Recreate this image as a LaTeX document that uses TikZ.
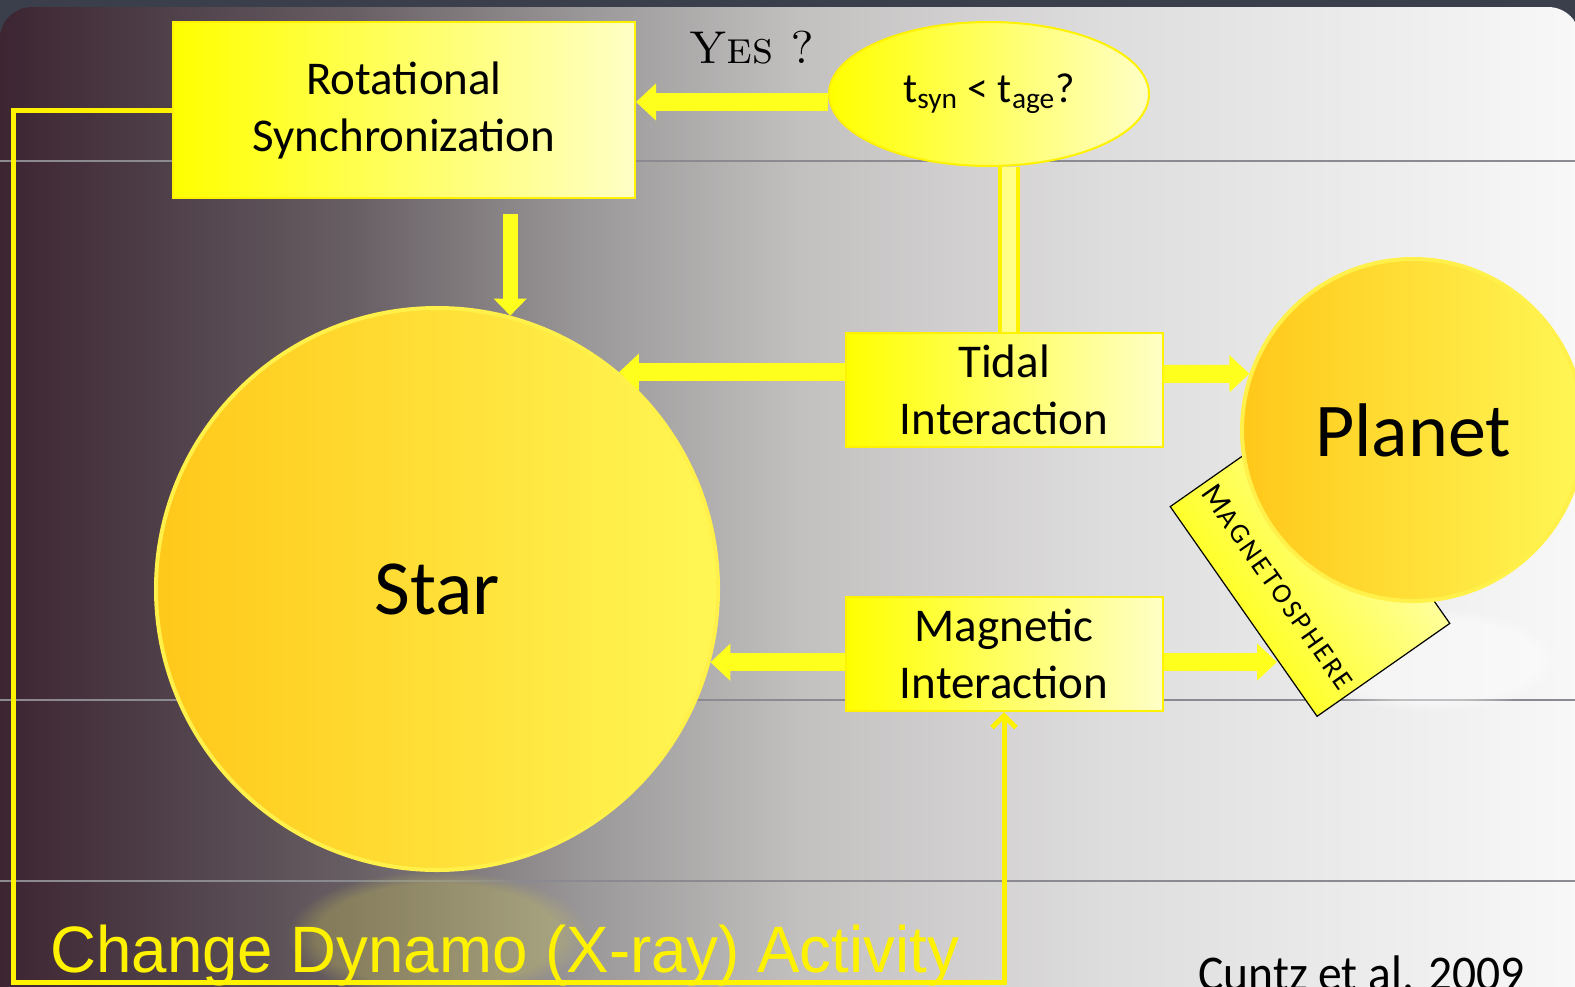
\documentclass[tikz,border=0pt]{standalone}
\usepackage{fontspec}
\newfontfamily\calibri{Carlito}
\newfontfamily\calibrisp[LetterSpace=10]{Carlito}
\newfontfamily\arial{Liberation Sans}
\usetikzlibrary{shapes.geometric,arrows.meta,calc,fadings}

\definecolor{strip}{HTML}{3A3F4B}
\definecolor{bgA}{HTML}{3D2532}
\definecolor{bgB}{HTML}{4D3D47}
\definecolor{bgC}{HTML}{675E63}
\definecolor{bgD}{HTML}{9A9798}
\definecolor{bgE}{HTML}{C3C0C0}
\definecolor{bgF}{HTML}{DEDDDD}
\definecolor{bgG}{HTML}{F8F8F8}
\definecolor{pale}{HTML}{FFFFC6}
\definecolor{barpale}{HTML}{FFFF88}
\definecolor{arrowyel}{HTML}{FFFF1E}
\definecolor{sun}{HTML}{FFC81A}
\definecolor{sunlight}{HTML}{FFF755}
\definecolor{rim}{HTML}{FFF04A}
\definecolor{rulegray}{HTML}{8A8A90}

\pgfdeclarehorizontalshading{slidebg}{100bp}{color(0bp)=(bgA); color(25bp)=(bgA); color(29.8bp)=(bgB); color(36.1bp)=(bgC); color(43.4bp)=(bgD); color(50.4bp)=(bgE); color(59.9bp)=(bgF); color(75bp)=(bgG); color(100bp)=(bgG)}

\tikzset{
  ibox/.style={rectangle, draw=yellow, line width=1pt, left color=yellow, right color=pale, inner sep=0pt, align=center, minimum width=158.5pt, minimum height=57pt, font=\calibri\fontsize{23.5}{28.5}\selectfont},
  body/.style={circle, draw=rim, line width=2pt, left color=sun, right color=sunlight, inner sep=0pt},
  fat/.style={draw=arrowyel, line width=9pt, -{Triangle[length=10pt,width=18pt]}},
  slim/.style={draw=arrowyel, line width=7.5pt, -{Triangle[length=8.5pt,width=16pt]}},
  fbline/.style={draw=yellow, line width=2.5pt, -{Straight Barb[length=6pt,width=12pt]}},
  hrule/.style={draw=rulegray, line width=0.6pt}
}

\begin{document}
\begin{tikzpicture}[x=0.5pt,y=-0.5pt]
	\useasboundingbox (0,0) rectangle (1575,986);
	\fill[strip] (0,0) rectangle (1575,986);
	\shade[shading=slidebg, rounded corners=16pt] (0,7) rectangle (1580,1040);
	\draw[hrule] (0,161) -- (1575,161);
	\draw[hrule] (0,700) -- (1575,700);
	\draw[hrule] (0,881) -- (1575,881);
	\fill[yellow!60!gray, opacity=.3, path fading=circle with fuzzy edge 20 percent] (437,935) ellipse [x radius=75pt, y radius=32pt];
	\fill[white, opacity=.45, path fading=circle with fuzzy edge 20 percent] (1430,660) ellipse [x radius=65pt, y radius=26pt];
	
	\node(rotsync) at (404,110)[ibox, minimum width=231pt, minimum height=88pt]{Rotational\\Synchronization};
	\node(tcond) at (989,94)[ellipse, draw=yellow, line width=1pt, left color=yellow, right color=pale, inner sep=0pt, minimum width=160pt, minimum height=72pt, font=\calibri\fontsize{21}{21}\selectfont]{t\textsubscript{syn} < t\textsubscript{age}?};
	\node(yes) at (752,63)[anchor=base, font=\fontsize{23}{23}\selectfont]{\textsc{Yes ?}};
	\node(tidal) at (1004,390)[ibox]{Tidal\\Interaction};
	\node(magint) at (1004,654)[ibox]{Magnetic\\Interaction};
	\node(mag) at (1310,565)[rectangle, draw=black, line width=0.6pt, rotate=-55, minimum width=128pt, minimum height=81pt, bottom color=yellow, top color=pale, shading angle=-55]{};
	\node(magtext) at ($(mag.center)!0.47!(mag.south)$)[rotate=-55, font=\calibrisp\fontsize{14}{14}\selectfont]{{\fontsize{16}{16}\selectfont M}AGNETOSPHERE};
	\node(star) at (437,589)[body, minimum size=281pt, font=\calibri\fontsize{39}{39}\selectfont]{Star};
	\node(planet) at (1413,430)[body, minimum size=171pt, font=\calibri\fontsize{38}{38}\selectfont]{Planet};
	\node(dynamo) at (50,972)[anchor=base west, inner sep=0pt, text=yellow, xscale=0.97, font=\arial\fontsize{32.8}{33}\selectfont]{Change Dynamo (X-ray) Activity};
	\node(cite) at (1198,990)[anchor=base west, inner sep=0pt, xscale=0.95, font=\calibri\fontsize{25}{25}\selectfont]{Cuntz et al. 2009};
	\coordinate(loopbl) at (13,982);
	\coordinate(magtip) at (1277,662);
	
	\draw[draw=yellow, double=barpale, double distance=7pt, line width=2pt] ($(tidal.north)+(5,0)$) -- ($(tidal.north |- tcond.south)+(5,0)$);
	\draw[fat] ($(tcond.west)+(0,8)$) -- ($(tcond.west -| rotsync.east)+(0,8)$);
	\draw[slim] ($(star.75 |- rotsync.south)+(0,15)$) -- (star.75);
	\draw[fat] (tidal.west |- star.50) -- (star.50);
	\draw[fat] (magint.west |- star.-15) -- (star.-15);
	\draw[fat] ($(tidal.east)+(0,-16)$) -- (planet.161);
	\draw[fat] ($(magint.east)+(0,8)$) -- (magtip);
	\draw[fbline] (rotsync.west) -| (loopbl) -| (magint.south);
	
\end{tikzpicture}
\end{document}
